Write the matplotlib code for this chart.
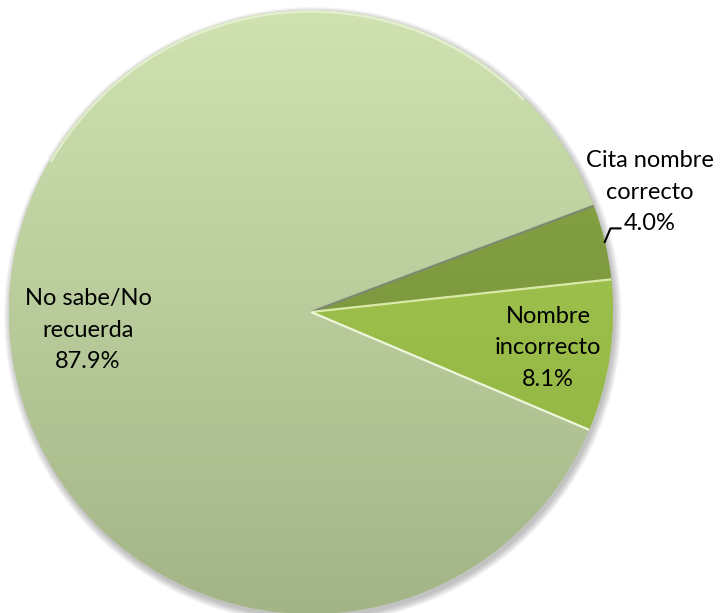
import numpy as np
import matplotlib
matplotlib.use("Agg")
import matplotlib.pyplot as plt
from matplotlib.colors import LinearSegmentedColormap
from matplotlib.patches import Circle, Arc

# ---- data ----
categories = ["Cita nombre\ncorrecto", "Nombre\nincorrecto", "No sabe/No\nrecuerda"]
values = [4.0, 8.1, 87.9]
pct_labels = ["4.0%", "8.1%", "87.9%"]

# ---- style ----
base_colors = ["#7f9c3f", "#9cbf4a", "#bccf9c"]
grad_colors = [("#8aa848", "#718c36"), ("#a8cb57", "#8eb03e"), ("#cfe2b0", "#a3b586")]
start_angle = 20.6
font = ["Lato", "DejaVu Sans"]
fsize = 17
label_pos = [(1.123, 0.397), (0.785, -0.119), (-0.738, -0.060)]

fig = plt.figure(figsize=(7.22, 6.13), dpi=100)
ax = fig.add_axes([0, 0, 1, 1])

# soft shadow
for i in range(10):
    ax.add_patch(Circle((0.006, -0.012), 1.0 + 0.0025 * i, facecolor="#404040",
                        edgecolor="none", alpha=0.035, zorder=0))

wedges, _ = ax.pie(values, colors=base_colors, startangle=start_angle,
                   counterclock=False, radius=1.0, center=(0, 0),
                   wedgeprops=dict(linewidth=0, zorder=1))

# gradients clipped to wedges
yy = np.linspace(1, 0, 256).reshape(-1, 1)
for w, (c1, c2) in zip(wedges, grad_colors):
    cmap = LinearSegmentedColormap.from_list("g", [c2, c1])
    im = ax.imshow(yy, cmap=cmap, extent=(-1, 1, -1, 1), aspect="auto",
                   zorder=2, interpolation="bilinear")
    im.set_clip_path(w)

# boundary lines
bounds = start_angle - np.concatenate([[0], np.cumsum(values)]) * 3.6
edge_cols = ["#7d8a70", "#d9eaa8", "#eef6dc"]
for ang, ec in zip(bounds[:3], edge_cols):
    t = np.deg2rad(ang)
    ax.plot([0, np.cos(t)], [0, np.sin(t)], color=ec, lw=1.6, zorder=3,
            solid_capstyle="butt")

# rim highlight at top
ax.add_patch(Arc((0, 0), 1.99, 1.99, theta1=45, theta2=150, color="#f4f9e8",
                 lw=1.8, alpha=0.6, zorder=3))

# labels
for (x, y), cat, p in zip(label_pos, categories, pct_labels):
    ax.text(x, y, f"{cat}\n{p}", ha="center", va="center", fontsize=fsize,
            family=font, color="#000000", linespacing=1.6, zorder=5)

# leader line for the small slice
mid = np.deg2rad(start_angle - values[0] * 3.6 / 2)
x0, y0 = np.cos(mid), np.sin(mid)
ax.plot([x0, x0 + 0.019, x0 + 0.052], [y0, y0 + 0.045, y0 + 0.045],
        color="black", lw=1.5, zorder=5)

ax.set_aspect("auto")
ax.set_xlim(-1.0298, 1.361)
ax.set_ylim(-0.9967, 1.033)
ax.axis("off")
fig.savefig("out.png", dpi=100, facecolor="white")
